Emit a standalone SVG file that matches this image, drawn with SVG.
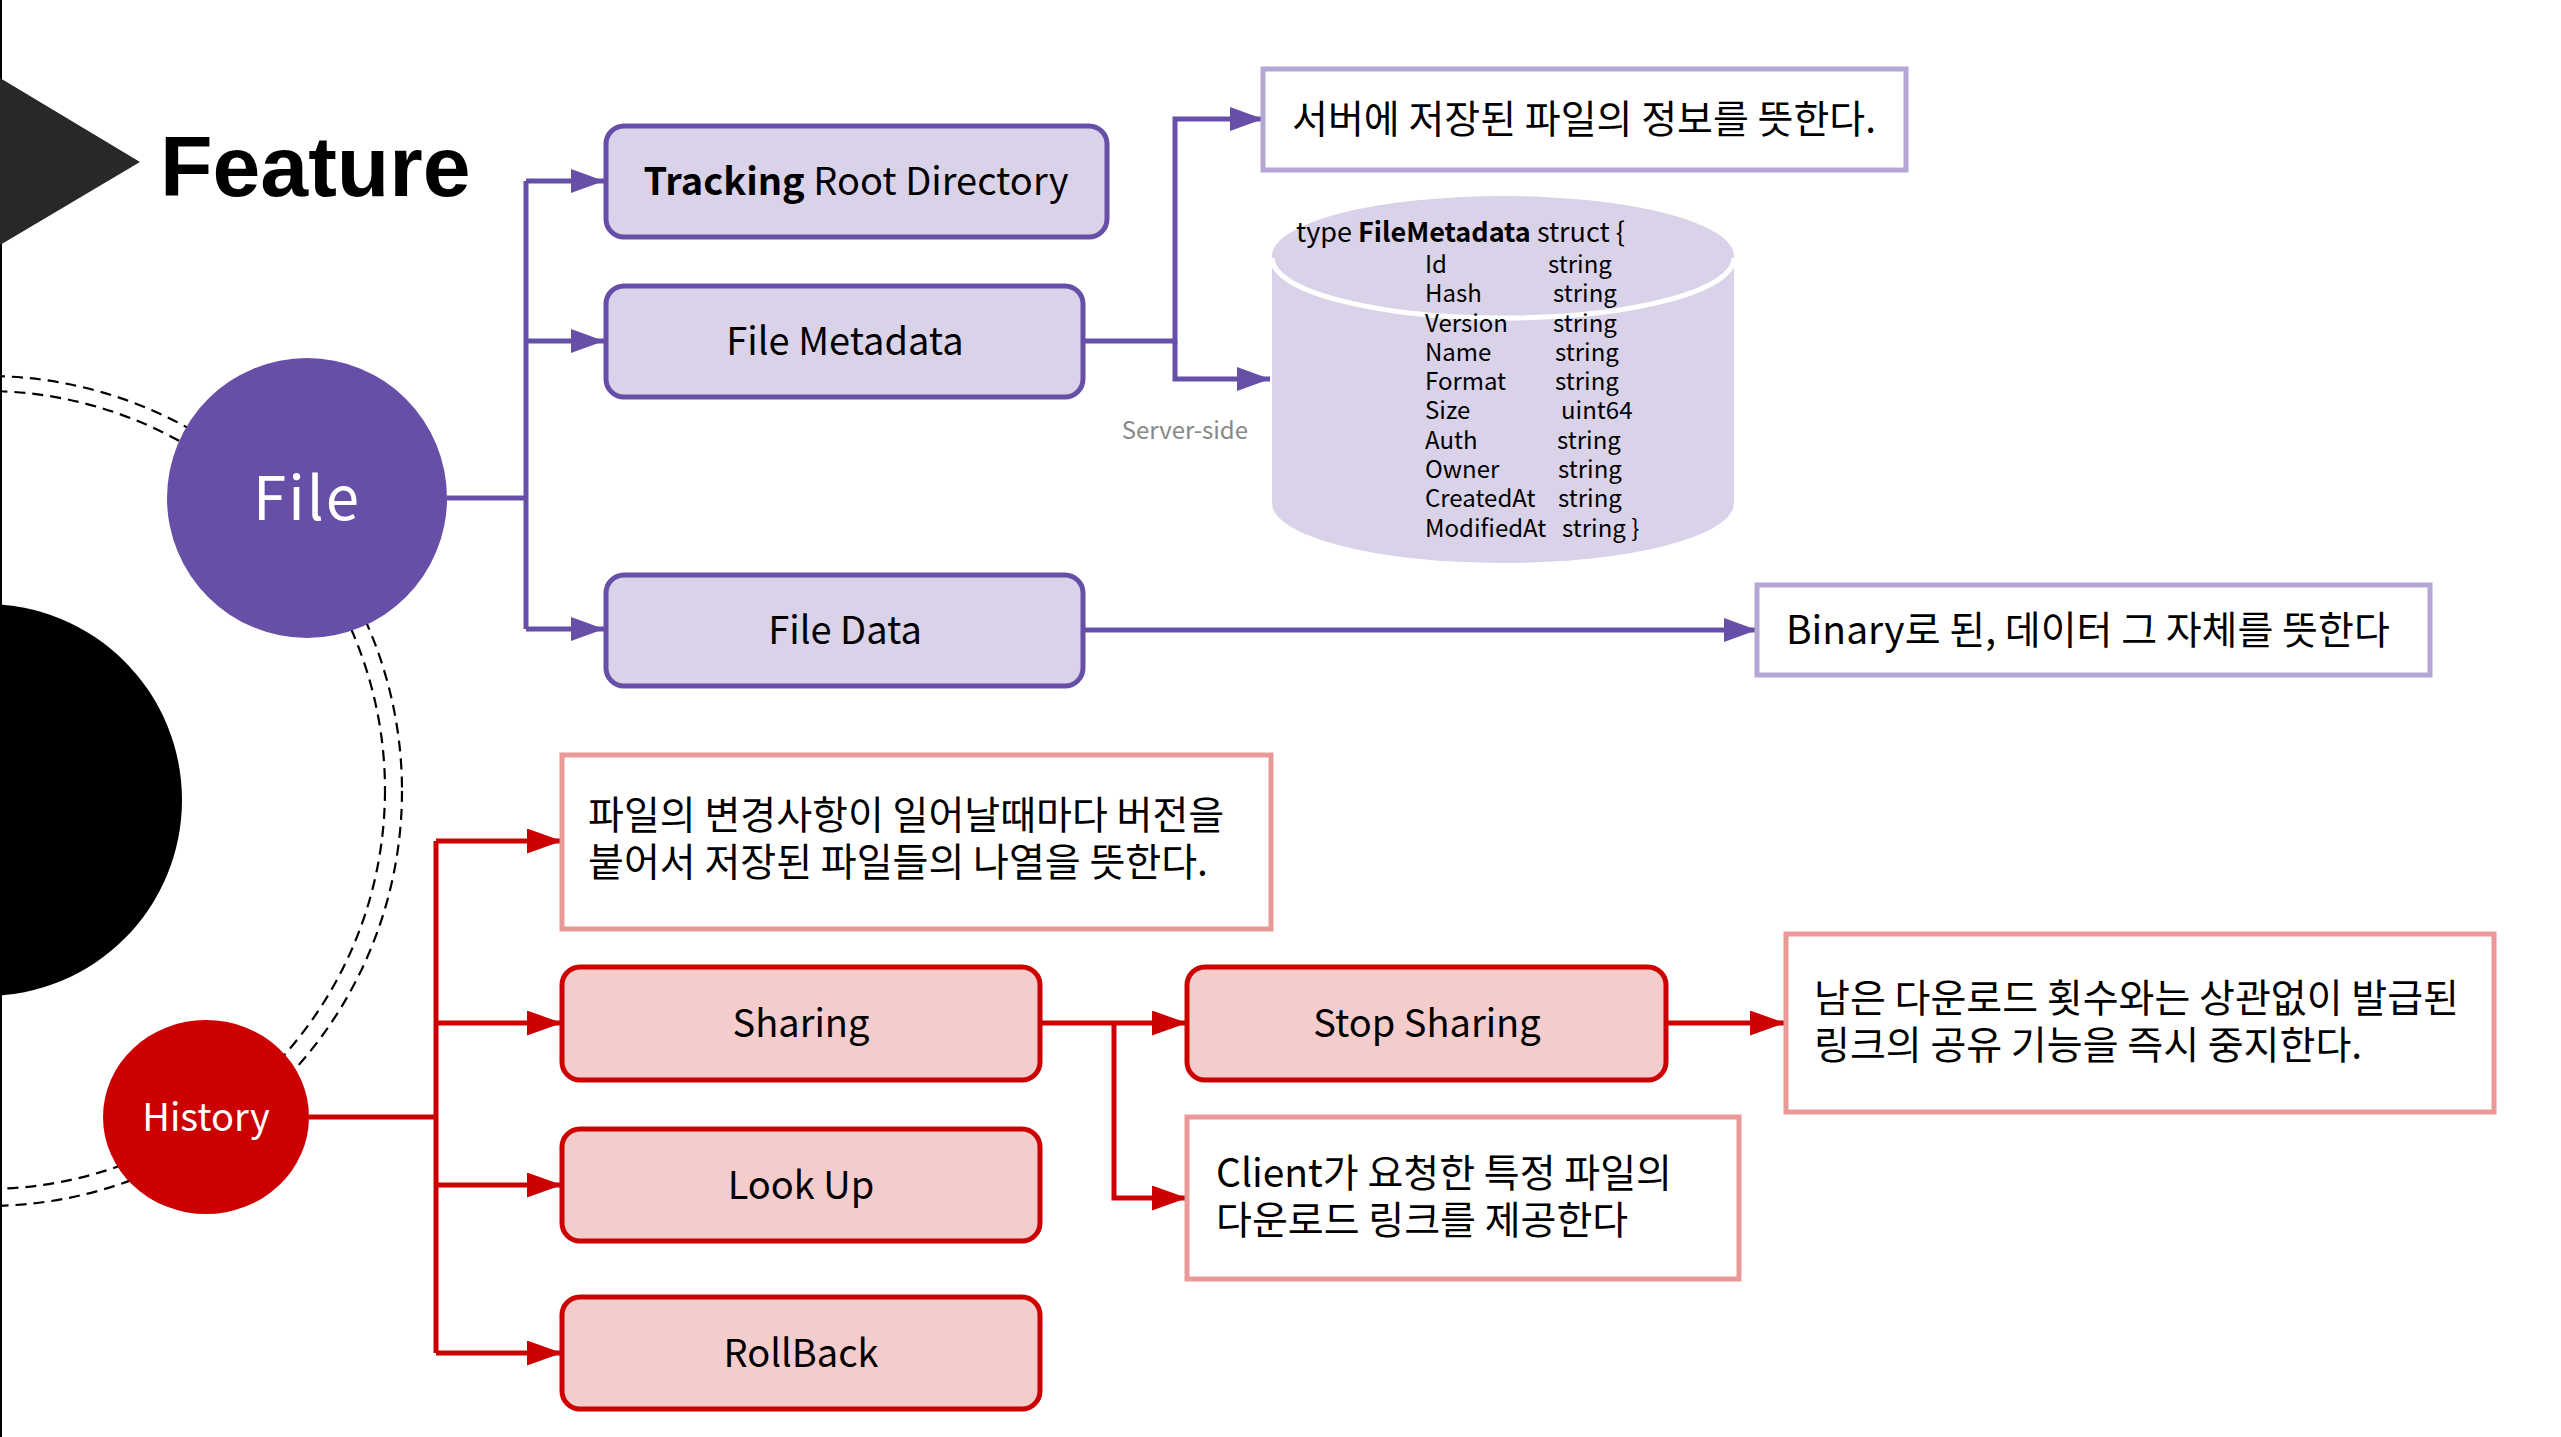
<svg xmlns="http://www.w3.org/2000/svg" width="2561" height="1437" viewBox="0 0 2561 1437">
<defs>
<style>
.t{font-family:"Noto Sans CJK KR","Noto Sans",sans-serif;fill:#000}
.lbl{font-size:38px;text-anchor:middle}
.kr{font-size:39px}
.code{font-size:24px}
.pbox{fill:#D9D2E9;stroke:#674EA7;stroke-width:5}
.rbox{fill:#F4CCCC;stroke:#CC0000;stroke-width:5}
.pnote{fill:#fff;stroke:#B4A7D6;stroke-width:5}
.rnote{fill:#fff;stroke:#EA9999;stroke-width:5}
.pl{fill:none;stroke:#674EA7;stroke-width:5}
.rl{fill:none;stroke:#CC0000;stroke-width:5}
.dash{fill:none;stroke:#000;stroke-width:2.2;stroke-dasharray:11 7}
</style>
<marker id="ap" markerUnits="userSpaceOnUse" markerWidth="34" markerHeight="26" refX="33" refY="12" orient="auto"><path d="M0,0 L33,12 L0,24 Z" fill="#674EA7"/></marker>
<marker id="ar" markerUnits="userSpaceOnUse" markerWidth="36" markerHeight="26" refX="35" refY="12.5" orient="auto"><path d="M0,0 L35,12.5 L0,25 Z" fill="#CC0000"/></marker>
</defs>
<rect width="2561" height="1437" fill="#fff"/>
<line x1="1" y1="0" x2="1" y2="1437" stroke="#000" stroke-width="2"/>
<g id="decor">
<polygon points="0,78 140,162 0,245" fill="#282828"/>
<circle cx="-14" cy="800" r="196" fill="#000"/>
<circle cx="-14" cy="790" r="399" class="dash"/>
<circle cx="-13" cy="791" r="415" class="dash"/>
</g>
<text id="title" x="160" y="196" font-family="'Liberation Sans',Arial,sans-serif" font-weight="bold" font-size="86" fill="#000">Feature</text>
<g id="connectors">
<path class="pl" d="M447,498 H526"/>
<path class="pl" d="M526,181 V629"/>
<path class="pl" d="M526,181 H604" marker-end="url(#ap)"/>
<path class="pl" d="M526,341 H604" marker-end="url(#ap)"/>
<path class="pl" d="M526,629 H604" marker-end="url(#ap)"/>
<path class="pl" d="M1083,341 H1175 V119 H1263" marker-end="url(#ap)"/>
<path class="pl" d="M1175,341 V379 H1270" marker-end="url(#ap)"/>
<path class="pl" d="M1083,630 H1757" marker-end="url(#ap)"/>
<path class="rl" d="M309,1117 H436"/>
<path class="rl" d="M436,841 V1353"/>
<path class="rl" d="M436,841 H562" marker-end="url(#ar)"/>
<path class="rl" d="M436,1023 H562" marker-end="url(#ar)"/>
<path class="rl" d="M436,1185 H562" marker-end="url(#ar)"/>
<path class="rl" d="M436,1353 H562" marker-end="url(#ar)"/>
<path class="rl" d="M1040,1023 H1187" marker-end="url(#ar)"/>
<path class="rl" d="M1114,1023 V1198 H1187" marker-end="url(#ar)"/>
<path class="rl" d="M1666,1023 H1785" marker-end="url(#ar)"/>
</g>
<g id="file">
<circle cx="307" cy="498" r="140" fill="#674EA7"/>
<text class="t" x="307" y="520" font-size="60" text-anchor="middle" letter-spacing="2" style="fill:#fff">File</text>
</g>
<g id="history">
<ellipse cx="206" cy="1117" rx="103" ry="97" fill="#CC0000"/>
<text class="t" x="206" y="1131" font-size="38" text-anchor="middle" style="fill:#fff">History</text>
</g>
<g id="tracking">
<rect class="pbox" x="606" y="126" width="501" height="111" rx="18"/>
<text class="t lbl" x="856" y="195"><tspan font-weight="bold">Tracking</tspan> Root Directory</text>
</g>
<g id="filemeta">
<rect class="pbox" x="606" y="286" width="477" height="111" rx="18"/>
<text class="t lbl" x="845" y="355">File Metadata</text>
</g>
<g id="filedata">
<rect class="pbox" x="606" y="575" width="477" height="111" rx="18"/>
<text class="t lbl" x="845" y="644">File Data</text>
</g>
<g id="meta-note">
<rect class="pnote" x="1263" y="69" width="643" height="101"/>
<text class="t kr" x="1292" y="133">서버에 저장된 파일의 정보를 뜻한다.</text>
</g>
<g id="server-db">
<path d="M1272,256 A231,60 0 0 1 1734,256 V503 A231,60 0 0 1 1272,503 Z" fill="#D9D2E9"/>
<path d="M1272,258 A231,60 0 0 0 1734,258" fill="none" stroke="#fff" stroke-width="5"/>
<text class="t" font-size="27" x="1296" y="242">type <tspan font-weight="bold">FileMetadata</tspan> struct {</text>
<g class="t code">
<text x="1425" y="273">Id</text><text x="1548" y="273">string</text>
<text x="1425" y="302">Hash</text><text x="1553" y="302">string</text>
<text x="1425" y="332">Version</text><text x="1553" y="332">string</text>
<text x="1425" y="361">Name</text><text x="1555" y="361">string</text>
<text x="1425" y="390">Format</text><text x="1555" y="390">string</text>
<text x="1425" y="419">Size</text><text x="1561" y="419">uint64</text>
<text x="1425" y="449">Auth</text><text x="1557" y="449">string</text>
<text x="1425" y="478">Owner</text><text x="1558" y="478">string</text>
<text x="1425" y="507">CreatedAt</text><text x="1558" y="507">string</text>
<text x="1425" y="537">ModifiedAt</text><text x="1562" y="537">string }</text>
</g>
<text class="t" x="1248" y="439" font-size="24" text-anchor="end" style="fill:#888">Server-side</text>
</g>
<g id="binary-note">
<rect class="pnote" x="1757" y="585" width="673" height="90"/>
<text class="t kr" x="1786" y="644">Binary로 된, 데이터 그 자체를 뜻한다</text>
</g>
<g id="history-note">
<rect class="rnote" x="562" y="755" width="709" height="174"/>
<text class="t kr" x="588" y="829">파일의 변경사항이 일어날때마다 버전을</text>
<text class="t kr" x="588" y="876">붙어서 저장된 파일들의 나열을 뜻한다.</text>
</g>
<g id="sharing">
<rect class="rbox" x="562" y="967" width="478" height="113" rx="18"/>
<text class="t lbl" x="801" y="1037">Sharing</text>
</g>
<g id="lookup">
<rect class="rbox" x="562" y="1129" width="478" height="112" rx="18"/>
<text class="t lbl" x="801" y="1199">Look Up</text>
</g>
<g id="rollback">
<rect class="rbox" x="562" y="1297" width="478" height="112" rx="18"/>
<text class="t lbl" x="801" y="1367">RollBack</text>
</g>
<g id="stopsharing">
<rect class="rbox" x="1187" y="967" width="479" height="113" rx="18"/>
<text class="t lbl" x="1427" y="1037">Stop Sharing</text>
</g>
<g id="stop-note">
<rect class="rnote" x="1786" y="934" width="708" height="178"/>
<text class="t kr" x="1814" y="1012">남은 다운로드 횟수와는 상관없이 발급된</text>
<text class="t kr" x="1814" y="1059">링크의 공유 기능을 즉시 중지한다.</text>
</g>
<g id="client-note">
<rect class="rnote" x="1187" y="1117" width="552" height="162"/>
<text class="t kr" x="1216" y="1187">Client가 요청한 특정 파일의</text>
<text class="t kr" x="1216" y="1234">다운로드 링크를 제공한다</text>
</g>
</svg>
